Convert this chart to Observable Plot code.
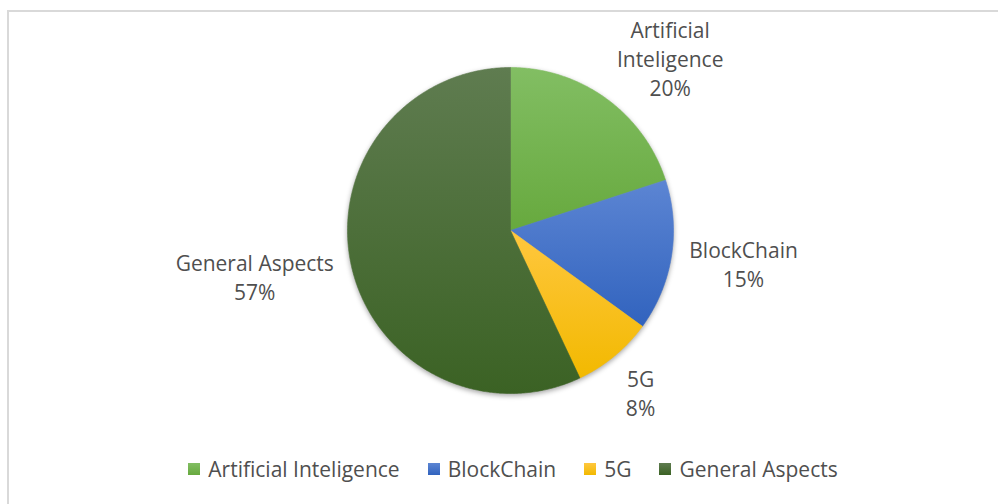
<!DOCTYPE html>
<html>
<head>
<meta charset="utf-8">
<script src="https://cdn.jsdelivr.net/npm/d3@7"></script>
<script src="https://cdn.jsdelivr.net/npm/@observablehq/plot@0.6"></script>
<style>
  html, body { margin: 0; padding: 0; background: #fff; width: 998px; height: 504px; overflow: hidden; }
  #frame { position: absolute; left: 7px; top: 10px; width: 1100px; height: 600px; border: 2px solid #D9D9D9; box-sizing: border-box; }
  #chart { position: absolute; left: 0; top: 0; }
  #chart svg g[aria-label="line"] { filter: drop-shadow(0px 2px 2.5px rgba(0,0,0,0.35)); }
  #legend { position: absolute; left: 0; top: 455px; width: 998px; padding-left: 28px; box-sizing: border-box;
            display: flex; justify-content: center; align-items: center; gap: 28px;
            font-family: "Open Sans", sans-serif; font-size: 21px; color: #4F4F4F; }
  .item { display: flex; align-items: center; }
  .sw { width: 12px; height: 12px; margin-right: 8px; }
</style>
</head>
<body>
<div id="frame"></div>
<div id="chart"></div>
<div id="legend"></div>
<script>
const categories = ["Artificial Inteligence", "BlockChain", "5G", "General Aspects"];
const labelLines = ["Artificial\nInteligence", "BlockChain", "5G", "General Aspects"];
const shares = [20, 15, 8, 57];
const gradTop = ["#82BE63", "#5C85D3", "#FFC73F", "#5F7C50"];
const gradBottom = ["#67A93E", "#3163BE", "#F2B900", "#3B6224"];

const W = 998, H = 450, cx = 510, cy = 230, R = 163;
const FONT = 21, LH = 29, TOP_LIMIT = 14;

const pie = d3.pie().sort(null).value(d => d)(shares);
// slice polygons in unit-circle coordinates
const pts = [];
pie.forEach((s, i) => {
  pts.push({cat: categories[i], i, x: 0, y: 0});
  const n = Math.max(2, Math.ceil((s.endAngle - s.startAngle) / (Math.PI / 360)));
  for (let k = 0; k <= n; k++) {
    const a = s.startAngle + (s.endAngle - s.startAngle) * k / n;
    pts.push({cat: categories[i], i, x: Math.sin(a), y: -Math.cos(a)});
  }
  pts.push({cat: categories[i], i, x: 0, y: 0});
});

// label positions: outside end, box placed beyond the arc along mid-angle
const ctx = document.createElement("canvas").getContext("2d");
ctx.font = `${FONT}px "Open Sans"`;
const gap = 18;
const labels = pie.map((s, i) => {
  const text = `${labelLines[i]}\n${shares[i]}%`;
  const lines = text.split("\n");
  const w = d3.max(lines, l => ctx.measureText(l).width);
  const h = lines.length * LH;
  const a = (s.startAngle + s.endAngle) / 2;
  const dx = Math.sin(a), dy = -Math.cos(a);
  const px = (R + gap) * dx + Math.sign(dx) * w / 2;
  let py = (R + gap) * dy + dy * h / 2;
  // keep the label box inside the chart area
  py = Math.max(py, TOP_LIMIT + h / 2 - cy);
  return {text, x: px / R, y: py / R};
});

const defs = () => {
  const d = d3.create("svg:defs");
  categories.forEach((c, i) => {
    const g = d.append("linearGradient").attr("id", "g" + i).attr("x1", 0).attr("y1", 0).attr("x2", 0).attr("y2", 1);
    g.append("stop").attr("offset", "0%").attr("stop-color", gradTop[i]);
    g.append("stop").attr("offset", "100%").attr("stop-color", gradBottom[i]);
  });
  return d.node();
};

const chart = Plot.plot({
  width: W, height: H, margin: 0,
  x: {domain: [-1, 1], range: [cx - R, cx + R], axis: null},
  y: {domain: [-1, 1], range: [cy - R, cy + R], axis: null},
  style: {background: "transparent", overflow: "visible"},
  marks: [
    defs,
    Plot.line(pts, {x: "x", y: "y", z: "cat",
      fill: {value: d => `url(#g${d.i})`, scale: null},
      stroke: {value: d => `url(#g${d.i})`, scale: null},
      strokeWidth: 0.6, curve: "linear"}),
    Plot.text(labels, {x: "x", y: "y", text: "text", fill: "#4F4F4F",
      fontSize: FONT, fontFamily: "Open Sans", lineHeight: LH / FONT,
      textAnchor: "middle", lineAnchor: "middle"})
  ]
});
document.getElementById("chart").appendChild(chart);

const legend = d3.select("#legend");
categories.forEach((c, i) => {
  const it = legend.append("div").attr("class", "item");
  it.append("div").attr("class", "sw").style("background", `linear-gradient(${gradTop[i]}, ${gradBottom[i]})`);
  it.append("span").text(c);
});
</script>
</body>
</html>
